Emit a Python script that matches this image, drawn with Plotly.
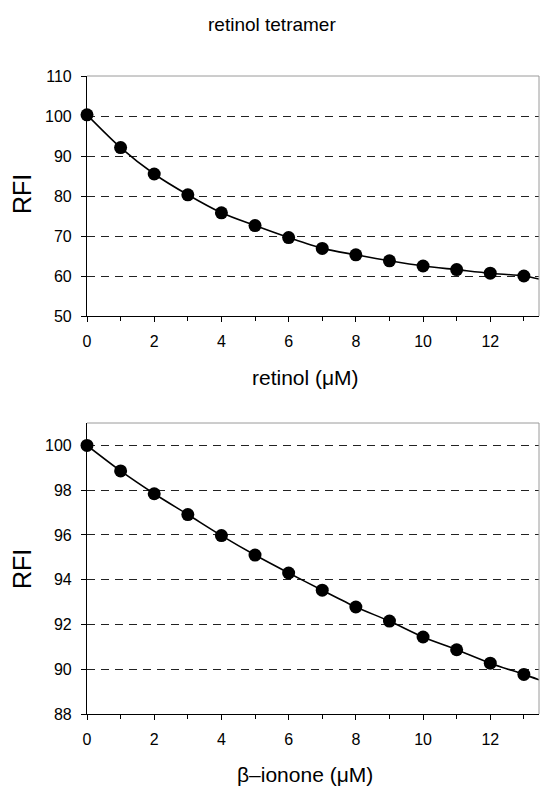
import plotly.graph_objects as go

# ---- data ----
conc = [0, 1, 2, 3, 4, 5, 6, 7, 8, 9, 10, 11, 12, 13]
rfi_retinol = [100.3, 92.1, 85.5, 80.3, 75.8, 72.6, 69.6, 66.9, 65.3, 63.8, 62.5, 61.6, 60.7, 60.0]
rfi_ionone = [100.0, 98.86, 97.84, 96.91, 95.97, 95.1, 94.3, 93.53, 92.78, 92.15, 91.44, 90.87, 90.27, 89.77]
# fitted curve end values at the right edge of each panel
fit_end_x = 13.45
fit_end_retinol = 59.25
fit_end_ionone = 89.53

title_text = "retinol tetramer"
xtitle_top = "retinol (μM)"
xtitle_bottom = "β–ionone (μM)"
ytitle = "RFI"

W, H = 540, 787
FONT = "Liberation Sans, Arial, sans-serif"


def px(x):
    return x / W


def py(y):
    return 1 - y / H


fig = go.Figure()

# top panel
fig.add_trace(go.Scatter(x=conc + [fit_end_x], y=rfi_retinol + [fit_end_retinol],
                         mode="lines", line=dict(color="black", width=1.6, shape="spline", smoothing=0.8),
                         xaxis="x", yaxis="y", hoverinfo="skip", showlegend=False))
fig.add_trace(go.Scatter(x=conc, y=rfi_retinol, mode="markers",
                         marker=dict(color="black", size=13, symbol="circle"),
                         xaxis="x", yaxis="y", showlegend=False, cliponaxis=False))
# bottom panel
fig.add_trace(go.Scatter(x=conc + [fit_end_x], y=rfi_ionone + [fit_end_ionone],
                         mode="lines", line=dict(color="black", width=1.6, shape="spline", smoothing=0.8),
                         xaxis="x2", yaxis="y2", hoverinfo="skip", showlegend=False))
fig.add_trace(go.Scatter(x=conc, y=rfi_ionone, mode="markers",
                         marker=dict(color="black", size=13, symbol="circle"),
                         xaxis="x2", yaxis="y2", showlegend=False, cliponaxis=False))

x_dom = [px(87), px(539)]
top_dom = [py(316), py(76)]
bot_dom = [py(714), py(423)]

tickfont = dict(family=FONT, size=16, color="black")

xcommon = dict(range=[0, fit_end_x], dtick=2, tick0=0, ticks="outside", ticklen=5, tickwidth=1,
               tickcolor="black", showline=True, linecolor="black", linewidth=1.2,
               showgrid=False, zeroline=False, tickfont=tickfont, automargin=False,
               ticklabelstandoff=6,
               minor=dict(dtick=1, ticks="outside", ticklen=4, tickcolor="black", showgrid=False))
ycommon = dict(ticks="outside", ticklen=5, tickwidth=1, tickcolor="black", showline=True,
               linecolor="black", linewidth=1.2, showgrid=True, gridcolor="#222", gridwidth=1,
               griddash="8px,6px", zeroline=False, tickfont=tickfont, automargin=False,
               ticklabelstandoff=6)

fig.update_layout(
    width=W, height=H, margin=dict(l=0, r=0, t=0, b=0),
    paper_bgcolor="white", plot_bgcolor="white",
    xaxis=dict(domain=x_dom, anchor="y", **xcommon),
    yaxis=dict(domain=top_dom, anchor="x", range=[50, 110], dtick=10, **ycommon),
    xaxis2=dict(domain=x_dom, anchor="y2", **xcommon),
    yaxis2=dict(domain=bot_dom, anchor="x2", range=[88, 101], dtick=2, tick0=88, **ycommon),
)

# grey top / right frame lines
for xr, yr in (("x domain", "y domain"), ("x2 domain", "y2 domain")):
    fig.add_shape(type="line", xref=xr, yref=yr, x0=0, x1=1, y0=1, y1=1,
                  line=dict(color="#9a9a9a", width=1), layer="above")
    fig.add_shape(type="line", xref=xr, yref=yr, x0=1, x1=1, y0=0, y1=1,
                  line=dict(color="#9a9a9a", width=1), layer="above")

ann = [
    dict(text=title_text, x=px(272), y=py(24), size=19),
    dict(text=xtitle_top, x=px(305), y=py(378), size=21),
    dict(text=xtitle_bottom, x=px(305), y=py(774), size=21),
]
for a in ann:
    fig.add_annotation(text=a["text"], x=a["x"], y=a["y"], xref="paper", yref="paper",
                       showarrow=False, xanchor="center", yanchor="middle",
                       font=dict(family=FONT, size=a["size"], color="black"))
for yc in (194, 569):
    fig.add_annotation(text=ytitle, x=px(22), y=py(yc), xref="paper", yref="paper",
                       showarrow=False, xanchor="center", yanchor="middle", textangle=-90,
                       font=dict(family=FONT, size=25, color="black"))

fig.write_html("out.html")
